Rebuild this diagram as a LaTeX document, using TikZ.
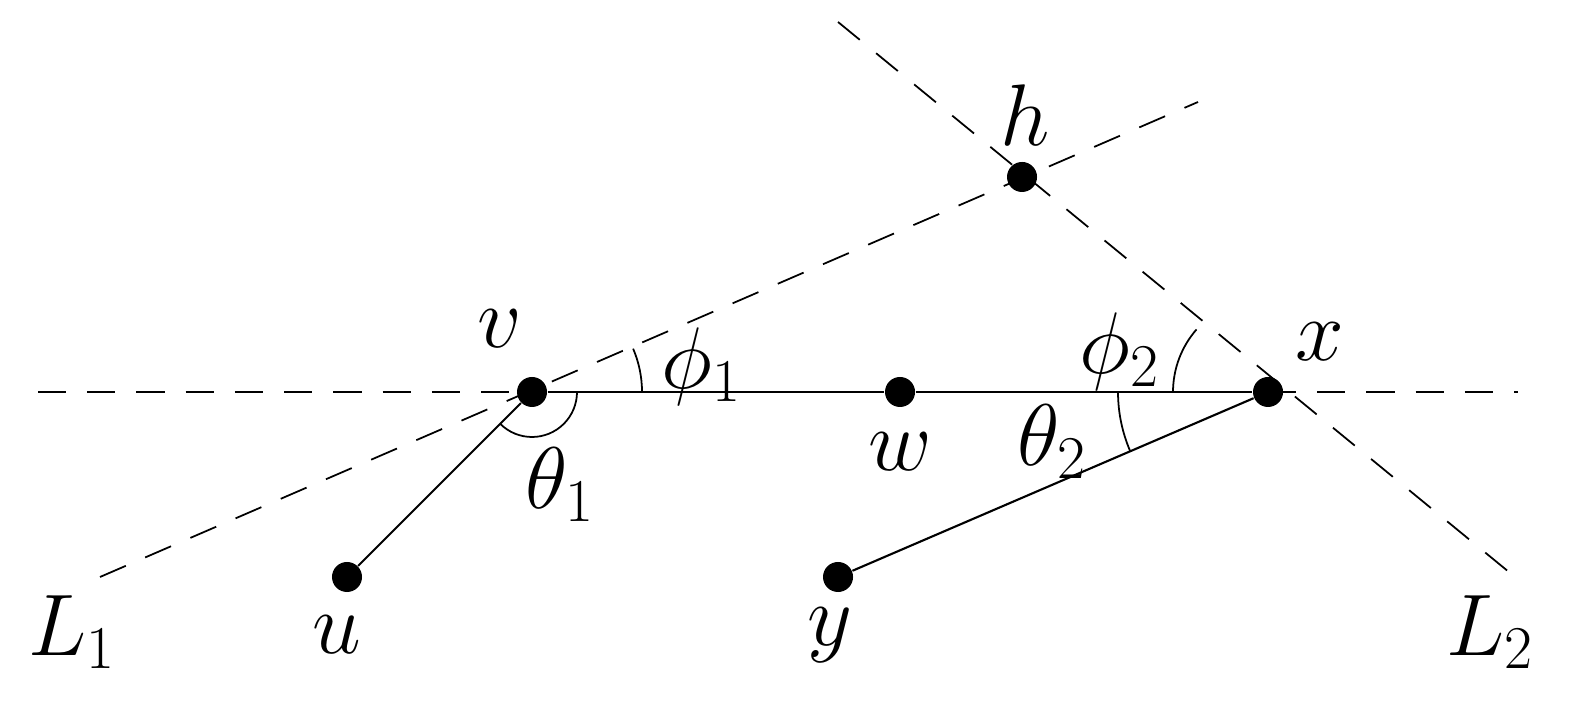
\documentclass[tikz,border=0pt]{standalone}
\begin{document}
\begin{tikzpicture}[x=0.01cm,y=0.01cm,
  pt/.style={circle,fill=black,inner sep=0pt,minimum size=0.3cm},
  dsh/.style={dashed,dash pattern=on 8pt off 6pt,line width=0.5pt},
  lbl/.style={font=\fontsize{24}{28}\selectfont}]
\useasboundingbox (0,0) rectangle (1589,707);
\node[pt] (v) at (532,315) {};
\node[pt] (w) at (900,315) {};
\node[pt] (x) at (1268,315) {};
\node[pt] (u) at (347,130) {};
\node[pt] (y) at (838,130) {};
\node[pt] (h) at (1022,530) {};
\coordinate (a1) at (38,315); \coordinate (a2) at (1518,315);
\coordinate (b1) at (100,130); \coordinate (b2) at (1198,605);
\coordinate (c1) at (838,685); \coordinate (c2) at (1515,130);
\draw[dsh] (a1) -- (v.center); \draw[dsh] (x.center) -- (a2);
\draw[dsh] (b1) -- (b2);
\draw[dsh] (c1) -- (c2);
\draw[line width=0.6pt] (v) -- (w) -- (x);
\draw[line width=0.6pt] (v) -- (u);
\draw[line width=0.6pt] (x) -- (y);
\draw[line width=0.5pt] (v.center) ++(110,0) arc (0:23.2:110);
\draw[line width=0.5pt] (v.center) ++(225:45) arc (225:360:45);
\draw[line width=0.5pt] (x.center) ++(138.8:95) arc (138.8:180:95);
\draw[line width=0.5pt] (x.center) ++(180:150) arc (180:203.3:150);
\node[lbl] (lv) at (500,378) {$v$};
\node[lbl] (lw) at (900,255) {$w$};
\node[lbl] (lx) at (1320,365) {$x$};
\node[lbl] (lu) at (337,72) {$u$};
\node[lbl] (ly) at (830,72) {$y$};
\node[lbl] (lh) at (1025,592) {$h$};
\node[lbl] (l1) at (72,75) {$L_1$};
\node[lbl] (l2) at (1490,75) {$L_2$};
\node[lbl] (p1) at (702,340) {$\phi_1$};
\node[lbl] (p2) at (1120,355) {$\phi_2$};
\node[lbl] (t1) at (560,222) {$\theta_1$};
\node[lbl] (t2) at (1052,265) {$\theta_2$};
\end{tikzpicture}
\end{document}
